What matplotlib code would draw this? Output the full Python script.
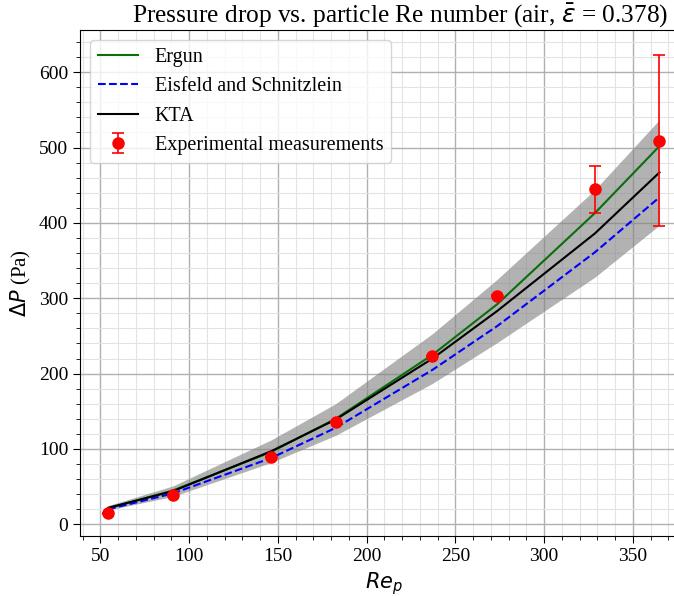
import matplotlib
matplotlib.use("Agg")
import matplotlib.pyplot as plt
from matplotlib.ticker import MultipleLocator

plt.rcParams['font.family'] = ['Liberation Serif', 'DejaVu Serif']
plt.rcParams['mathtext.fontset'] = 'dejavusans'

# Data
re_p = [54.4, 90.9, 146.2, 182.5, 237.1, 273.5, 328.6, 365.0]
dp_ergun = [21, 45, 96, 140, 225, 292, 413, 502]
dp_eisfeld = [20, 41, 88, 128, 205, 263, 361, 434]
dp_kta = [22, 44, 97, 139, 220, 283, 386, 467]
band_upper = [25, 51, 112, 160, 253, 325, 444, 537]
band_lower = [19, 37, 82, 118, 187, 241, 328, 397]
dp_exp = [14.7, 38.3, 89.4, 135.8, 223.4, 303.4, 444.4, 509.3]
dp_err = [0.5, 0.5, 0.5, 0.5, 0.5, 0.5, 31.5, 114.0]

fig = plt.figure(figsize=(6.74, 5.96), dpi=100)
ax = fig.add_axes([80/674, 60/596, 607/674, 506/596])

ax.fill_between(re_p, band_lower, band_upper, color='grey', alpha=0.6, zorder=2, linewidth=0)
ax.plot(re_p, dp_ergun, color='#0a6e0a', lw=1.5, label='Ergun', zorder=3)
ax.plot(re_p, dp_eisfeld, color='blue', lw=1.5, ls='--', label='Eisfeld and Schnitzlein', zorder=3)
ax.plot(re_p, dp_kta, color='black', lw=1.5, label='KTA', zorder=3)
ax.errorbar(re_p, dp_exp, yerr=dp_err, fmt='o', color='red', ecolor='red',
            markersize=8, capsize=4, elinewidth=1.2, capthick=1.2,
            label='Experimental measurements', zorder=4)

ax.set_xlim(38.5, 380.5)
ax.set_ylim(-15.5, 656)
ax.xaxis.set_major_locator(MultipleLocator(50))
ax.xaxis.set_minor_locator(MultipleLocator(10))
ax.yaxis.set_major_locator(MultipleLocator(100))
ax.yaxis.set_minor_locator(MultipleLocator(20))
ax.grid(which='major', color='#b0b0b0', lw=1.0, zorder=0)
ax.grid(which='minor', color='#e3e3e3', lw=0.8, zorder=0)
ax.set_axisbelow(True)
ax.tick_params(axis='both', which='major', labelsize=14, length=5)
ax.tick_params(axis='both', which='minor', length=3)

ax.set_xlabel(r'$Re_p$', fontsize=15)
ax.set_ylabel(r'$\Delta P$ (Pa)', fontsize=15)
ax.set_title(r'Pressure drop vs. particle Re number (air, $\bar{\varepsilon}$ = 0.378)',
             fontsize=18.3, x=0.528)

ax.legend(loc='upper left', fontsize=14.5, framealpha=0.8)

fig.savefig('out.png', dpi=100)
